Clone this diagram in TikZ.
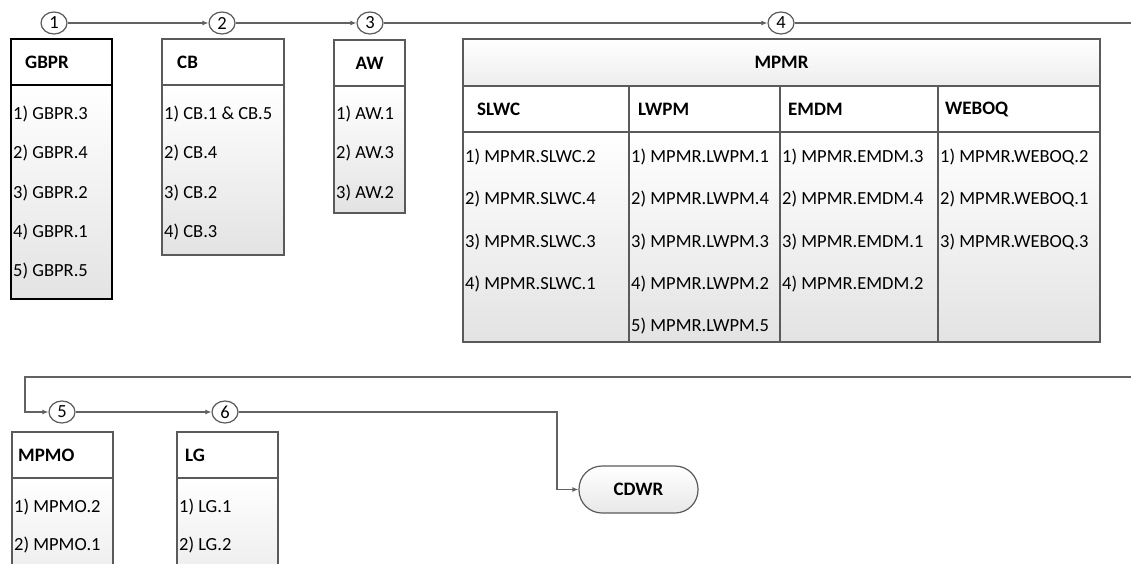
\documentclass[tikz,border=0pt]{standalone}
\usepackage{fontspec}
\setmainfont{Carlito}
\usetikzlibrary{shapes.geometric,arrows.meta,positioning,calc}
\definecolor{edgegray}{HTML}{5A5A5A}
\definecolor{wiregray}{HTML}{626262}

\begin{document}
\begin{tikzpicture}[x=1pt,y=1pt,
  font=\fontsize{18.5}{22}\selectfont,
  stage/.style={ellipse, draw=edgegray, line width=1.2pt, fill=white, minimum width=26pt, minimum height=22pt, inner sep=0pt},
  head/.style={rectangle, draw=edgegray, line width=1.3pt, fill=white, anchor=north west, outer sep=0pt, inner sep=0pt, minimum height=46pt},
  body/.style={rectangle, draw=edgegray, line width=1.3pt, top color=white, bottom color=black!11, anchor=north west, outer sep=0pt, inner sep=0pt},
  strong/.style={draw=black, line width=1.9pt},
  title/.style={anchor=west, inner sep=0pt, font=\fontsize{19}{22}\selectfont\bfseries},
  entry/.style={anchor=west, inner sep=0pt},
  wire/.style={line width=1.3pt, draw=wiregray},
  flow/.style={wire, -{Latex[length=6pt,width=5pt]}},
  term/.style={rectangle, rounded corners=23pt, draw=edgegray, line width=1.2pt, top color=white, bottom color=black!9, minimum width=119pt, minimum height=47pt, font=\fontsize{19}{22}\selectfont\bfseries},
]
\useasboundingbox (0,0) rectangle (1131,-564);
\clip (0,0) rectangle (1131,-564);

% --- top row: GBPR, CB, AW ---
\node[head, strong, minimum width=101pt] (gbpr-h) at (11,-39) {};
\node[body, strong, minimum width=101pt, minimum height=214pt] (gbpr-b) at (gbpr-h.south west) {};
\node[title] (gbpr-t) at ([xshift=14pt]gbpr-h.west) {GBPR};
\foreach \t [count=\i] in {GBPR.3, GBPR.4, GBPR.2, GBPR.1, GBPR.5}
  \node[entry] (gbpr-\i) at ($(gbpr-b.north west)+(2,{-29-39.3*(\i-1)})$) {\i) \t};

\node[head, minimum width=122pt] (cb-h) at (162,-39) {};
\node[body, minimum width=122pt, minimum height=170pt] (cb-b) at (cb-h.south west) {};
\node[title] (cb-t) at ([xshift=15pt]cb-h.west) {CB};
\foreach \t [count=\i] in {CB.1 \& CB.5, CB.4, CB.2, CB.3}
  \node[entry] (cb-\i) at ($(cb-b.north west)+(2,{-29-39.3*(\i-1)})$) {\i) \t};

\node[head, minimum width=71pt] (aw-h) at (334,-40) {};
\node[body, minimum width=71pt, minimum height=127pt] (aw-b) at (aw-h.south west) {};
\node[title, anchor=center] (aw-t) at (aw-h.center) {AW};
\foreach \t [count=\i] in {AW.1, AW.3, AW.2}
  \node[entry] (aw-\i) at ($(aw-b.north west)+(2,{-28-39.3*(\i-1)})$) {\i) \t};

% --- MPMR: one header over four sub-columns ---
\node[head, top color=white, bottom color=black!7, minimum width=637pt, minimum height=47pt] (mpmr-h) at (463,-39) {};
\node[title, anchor=center] (mpmr-t) at (mpmr-h.center) {MPMR};
\foreach \nm/\x/\w/\lbl/\pad in {slwc/463/166/SLWC/14, lwpm/629/151/LWPM/9, emdm/780/158/EMDM/8, weboq/938/162/WEBOQ/7}{
  \node[head, minimum width=\w pt] (\nm-h) at (\x,-86) {};
  \node[body, minimum width=\w pt, minimum height=210pt] (\nm-b) at (\nm-h.south west) {};
  \node[title] (\nm-t) at ([xshift=\pad pt]\nm-h.west) {\lbl};
}
\foreach \t [count=\i] in {SLWC.2, SLWC.4, SLWC.3, SLWC.1}
  \node[entry] (slwc-\i) at ($(slwc-b.north west)+(2,{-25-42.3*(\i-1)})$) {\i) MPMR.\t};
\foreach \t [count=\i] in {LWPM.1, LWPM.4, LWPM.3, LWPM.2, LWPM.5}
  \node[entry] (lwpm-\i) at ($(lwpm-b.north west)+(2,{-25-42.3*(\i-1)})$) {\i) MPMR.\t};
\foreach \t [count=\i] in {EMDM.3, EMDM.4, EMDM.1, EMDM.2}
  \node[entry] (emdm-\i) at ($(emdm-b.north west)+(2,{-25-42.3*(\i-1)})$) {\i) MPMR.\t};
\foreach \t [count=\i] in {WEBOQ.2, WEBOQ.1, WEBOQ.3}
  \node[entry] (weboq-\i) at ($(weboq-b.north west)+(2,{-25-42.3*(\i-1)})$) {\i) MPMR.\t};

% --- bottom row: MPMO, LG (run past the lower edge) ---
\node[head, minimum width=101pt] (mpmo-h) at (12,-432) {};
\node[body, minimum width=101pt, minimum height=150pt] (mpmo-b) at (mpmo-h.south west) {};
\node[title] (mpmo-t) at ([xshift=6pt]mpmo-h.west) {MPMO};
\foreach \t [count=\i] in {MPMO.2, MPMO.1}
  \node[entry] (mpmo-\i) at ($(mpmo-b.north west)+(2,{-29-38*(\i-1)})$) {\i) \t};

\node[head, minimum width=101pt] (lg-h) at (177,-432) {};
\node[body, minimum width=101pt, minimum height=150pt] (lg-b) at (lg-h.south west) {};
\node[title] (lg-t) at ([xshift=8pt]lg-h.west) {LG};
\foreach \t [count=\i] in {LG.1, LG.2}
  \node[entry] (lg-\i) at ($(lg-b.north west)+(2,{-29-38*(\i-1)})$) {\i) \t};

\node[term] (cdwr) at (638.5,-489.5) {CDWR};

% --- numbered stages on the flow line ---
\node[stage] (s1) at (54,-23) {1};
\node[stage] (s2) at (222,-23) {2};
\node[stage] (s3) at (370,-23) {3};
\node[stage] (s4) at (781,-23) {4};
\node[stage] (s5) at (62,-412) {5};
\node[stage] (s6) at (225,-412) {6};

\coordinate (topout) at (1131,-23);
\coordinate (botin) at (1131,-377);
\coordinate (loopturn) at (25,-377);
\coordinate (dropturn) at (557,-412);

\draw[flow] (s1) -- (s2);
\draw[flow] (s2) -- (s3);
\draw[flow] (s3) -- (s4);
\draw[wire] (s4) -- (topout);
\draw[flow] (botin) -- (loopturn) |- (s5);
\draw[flow] (s5) -- (s6);
\draw[flow] (s6) -- (dropturn) |- (cdwr);

\end{tikzpicture}
\end{document}
